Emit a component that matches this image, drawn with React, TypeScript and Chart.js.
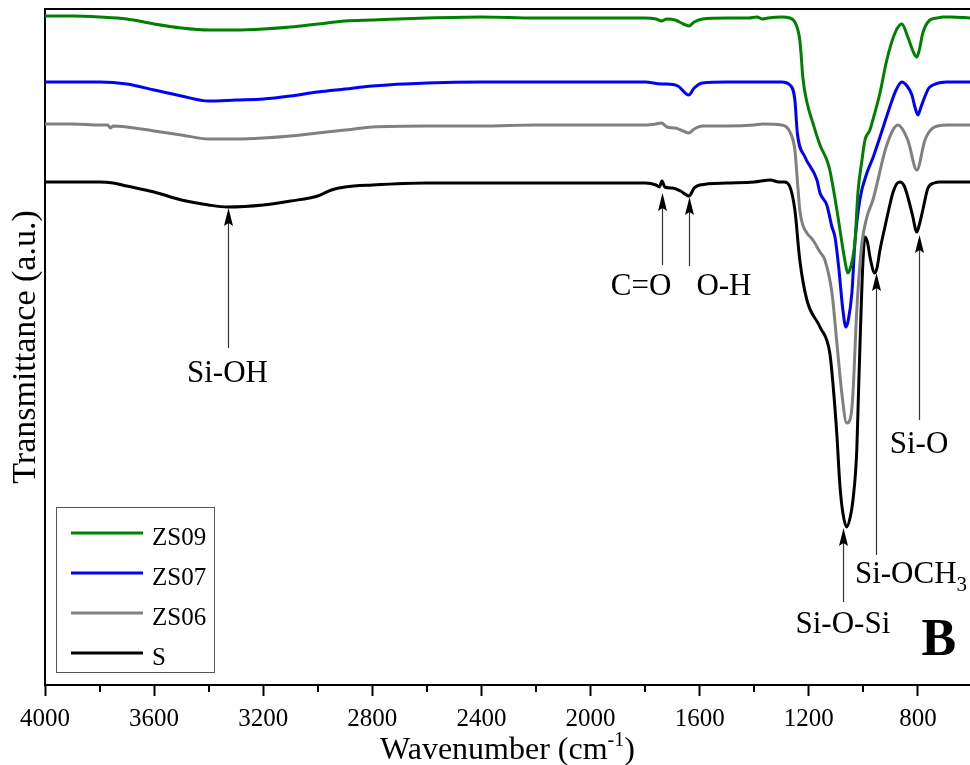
import React, { useEffect, useRef } from 'react';
import { Chart, registerables } from 'chart.js';

Chart.register(...registerables);

// ---------- data ----------
const wnZS09 = [4000, 3900, 3800, 3700, 3600, 3500, 3400, 3300, 3200, 3100, 3000, 2900, 2800, 2600, 2400, 2200, 2000, 1800, 1760, 1740, 1720, 1690, 1660, 1640, 1620, 1590, 1500, 1420, 1390, 1370, 1350, 1300, 1269, 1251, 1240, 1233, 1228, 1222, 1207, 1185, 1159, 1134, 1123, 1097, 1080, 1068, 1057, 1050, 1042, 1031, 1020, 1005, 994, 976, 960, 939, 914, 884, 859, 837, 815, 804, 795, 782, 756, 730, 708, 680, 609];
const tZS09 = [66.9, 66.9, 66.8, 66.6, 66.1, 65.7, 65.5, 65.5, 65.6, 65.8, 66.1, 66.4, 66.5, 66.7, 66.8, 66.7, 66.7, 66.7, 66.6, 66.4, 66.6, 66.5, 66.1, 65.9, 66.3, 66.6, 66.7, 66.7, 66.8, 66.6, 66.7, 66.8, 66.7, 66.3, 65.5, 64.5, 63.0, 60.8, 58.3, 56.2, 54.0, 52.5, 51.5, 47.5, 44.5, 42.5, 41.2, 41.5, 42.3, 44.2, 49.2, 52.5, 54.5, 55.5, 57.0, 59.2, 62.5, 65.2, 66.1, 64.8, 63.2, 62.8, 63.5, 65.2, 66.5, 66.7, 66.8, 66.8, 66.7];

const wnZS07 = [4000, 3800, 3700, 3600, 3500, 3400, 3300, 3200, 3100, 3000, 2900, 2800, 2600, 2400, 2000, 1800, 1740, 1720, 1680, 1640, 1620, 1590, 1500, 1300, 1269, 1251, 1242, 1214, 1170, 1159, 1134, 1115, 1104, 1090, 1075, 1064, 1055, 1042, 1031, 1013, 987, 965, 939, 903, 880, 859, 840, 822, 810, 800, 790, 775, 760, 745, 694, 609];
const tZS07 = [60.3, 60.3, 60.1, 59.5, 58.9, 58.4, 58.5, 58.6, 58.9, 59.3, 59.6, 59.9, 60.2, 60.3, 60.3, 60.3, 60.1, 60.1, 59.9, 59.0, 59.7, 60.2, 60.3, 60.3, 60.0, 58.5, 55.2, 52.8, 50.5, 49.2, 48.0, 45.8, 44.8, 41.7, 37.5, 35.8, 36.5, 39.2, 44.2, 48.5, 51.2, 52.7, 54.8, 57.8, 59.5, 60.3, 59.9, 59.0, 57.7, 57.0, 57.7, 58.8, 59.7, 60.0, 60.3, 60.3];

const wnZS06 = [4000, 3900, 3800, 3770, 3760, 3750, 3700, 3600, 3500, 3400, 3300, 3200, 3100, 3000, 2900, 2800, 2600, 2400, 2200, 1800, 1760, 1740, 1720, 1690, 1660, 1640, 1620, 1590, 1500, 1400, 1370, 1300, 1269, 1251, 1242, 1233, 1222, 1207, 1185, 1159, 1141, 1115, 1097, 1079, 1061, 1045, 1038, 1024, 1005, 987, 965, 914, 873, 837, 804, 774, 745, 694, 609];
const tZS06 = [56.1, 56.1, 56.0, 56.0, 55.7, 55.9, 55.8, 55.4, 55.0, 54.6, 54.6, 54.7, 54.9, 55.2, 55.5, 55.8, 55.9, 55.9, 56.0, 56.0, 56.1, 56.2, 55.8, 55.7, 55.4, 55.2, 55.6, 55.9, 55.9, 56.0, 56.1, 56.0, 55.3, 53.5, 50.5, 47.5, 46.0, 45.2, 44.5, 43.3, 42.5, 39.2, 34.2, 29.2, 26.2, 27.0, 29.2, 37.5, 44.2, 46.8, 48.5, 54.0, 56.0, 54.5, 51.5, 54.5, 55.7, 56.0, 56.0];

const wnS = [4000, 3900, 3800, 3750, 3700, 3600, 3500, 3400, 3330, 3200, 3100, 3000, 2950, 2900, 2800, 2600, 1800, 1760, 1748, 1738, 1728, 1700, 1670, 1639, 1620, 1600, 1500, 1400, 1340, 1310, 1290, 1269, 1251, 1233, 1207, 1159, 1123, 1111, 1097, 1086, 1075, 1061, 1048, 1038, 1024, 1018, 1010, 1002, 994, 985, 975, 958, 950, 939, 921, 903, 892, 878, 866, 850, 837, 820, 804, 795, 782, 763, 740, 719, 609];
const tS = [50.3, 50.3, 50.3, 50.2, 49.9, 49.3, 48.5, 48.0, 47.8, 48.0, 48.4, 48.9, 49.5, 49.8, 50.0, 50.2, 50.2, 50.0, 49.8, 50.4, 49.8, 49.7, 49.4, 48.9, 49.7, 50.0, 50.2, 50.3, 50.5, 50.3, 50.3, 49.8, 47.5, 42.5, 38.5, 35.8, 33.2, 30.0, 25.0, 20.0, 17.2, 15.8, 16.8, 18.5, 23.5, 29.0, 36.0, 42.0, 44.8, 44.3, 42.7, 41.2, 41.7, 43.5, 45.8, 48.0, 49.2, 50.1, 50.3, 49.9, 48.8, 47.0, 45.3, 46.0, 47.5, 49.7, 50.2, 50.3, 50.3];

const seriesNames = ['ZS09', 'ZS07', 'ZS06', 'S'];
const seriesColors = ['#008000', '#0000ff', '#808080', '#000000'];

const xMajorTicks = [4000, 3600, 3200, 2800, 2400, 2000, 1600, 1200, 800];
const xMinorTicks = [3800, 3400, 3000, 2600, 2200, 1800, 1400, 1000];
const xMin = 609;
const xMax = 4000;
const yMin = 0;
const yMax = 67.6;

// band assignments: arrow at wavenumber, from tail value up to tip value; label position
const bandLabels = ['Si-OH', 'C=O', 'O-H', 'Si-O-Si', 'Si-OCH', 'Si-O'];
const bandSub = ['', '', '', '', '3', ''];
const bandWn = [3329, 1738, 1639, 1075, 954, 796];
const bandTip = [47.7, 49.2, 48.8, 15.7, 41.2, 45.0];
const bandTail = [33.7, 42.0, 41.9, 8.3, 13.0, 26.5];
const bandTextWn = [3331, 1815, 1511, 1075, 1031, 796];
const bandTextT = [30.3, 39.0, 39.0, 5.2, 10.2, 23.2];
const bandAlign = ['center', 'center', 'center', 'center', 'left', 'center'];

const panelLetter = 'B';
const panelWn = 723;
const panelT = 3.0;

const FONT = "'Liberation Serif', 'Times New Roman', serif";

const decor = {
  id: 'decor',
  afterDraw(chart: any) {
    const { ctx, chartArea: ca } = chart;
    const x = chart.scales.x;
    const y = chart.scales.y;
    ctx.save();
    ctx.strokeStyle = '#000';
    ctx.fillStyle = '#000';
    // top frame line
    ctx.lineWidth = 2;
    ctx.beginPath();
    ctx.moveTo(ca.left - 1, ca.top);
    ctx.lineTo(ca.right, ca.top);
    ctx.stroke();
    // minor ticks
    xMinorTicks.forEach((v) => {
      const px = Math.round(x.getPixelForValue(v));
      ctx.beginPath();
      ctx.moveTo(px, ca.bottom);
      ctx.lineTo(px, ca.bottom + 7);
      ctx.stroke();
    });

    // x axis title with superscript
    const cx = (ca.left + ca.right) / 2;
    const baseY = 759;
    ctx.font = `32px ${FONT}`;
    const p1 = 'Wavenumber (cm';
    const p3 = ')';
    const w1 = ctx.measureText(p1).width;
    const w3 = ctx.measureText(p3).width;
    ctx.font = `20px ${FONT}`;
    const p2 = '-1';
    const w2 = ctx.measureText(p2).width;
    const total = w1 + w2 + w3;
    const sx = cx - total / 2;
    ctx.textBaseline = 'alphabetic';
    ctx.textAlign = 'left';
    ctx.font = `32px ${FONT}`;
    ctx.fillText(p1, sx, baseY);
    ctx.font = `20px ${FONT}`;
    ctx.fillText(p2, sx + w1, baseY - 13);
    ctx.font = `32px ${FONT}`;
    ctx.fillText(p3, sx + w1 + w2, baseY);

    // band arrows + labels
    bandLabels.forEach((lab, i) => {
      const ax = Math.round(x.getPixelForValue(bandWn[i])) + 0.5;
      const yTip = y.getPixelForValue(bandTip[i]);
      const yTail = y.getPixelForValue(bandTail[i]);
      ctx.strokeStyle = '#333';
      ctx.lineWidth = 1.2;
      ctx.beginPath();
      ctx.moveTo(ax, yTail);
      ctx.lineTo(ax, yTip + 14);
      ctx.stroke();
      ctx.fillStyle = '#000';
      ctx.beginPath();
      ctx.moveTo(ax, yTip);
      ctx.lineTo(ax - 4.5, yTip + 18);
      ctx.lineTo(ax, yTip + 15);
      ctx.lineTo(ax + 4.5, yTip + 18);
      ctx.closePath();
      ctx.fill();

      const tx = x.getPixelForValue(bandTextWn[i]);
      const ty = y.getPixelForValue(bandTextT[i]);
      ctx.font = `31px ${FONT}`;
      ctx.textBaseline = 'alphabetic';
      if (bandSub[i]) {
        ctx.textAlign = 'left';
        const mw = ctx.measureText(lab).width;
        ctx.fillText(lab, tx, ty);
        ctx.font = `21px ${FONT}`;
        ctx.fillText(bandSub[i], tx + mw, ty + 8);
      } else {
        ctx.textAlign = bandAlign[i] as CanvasTextAlign;
        ctx.fillText(lab, tx, ty);
      }
    });

    // panel letter
    ctx.font = `bold 52px ${FONT}`;
    ctx.textAlign = 'center';
    ctx.textBaseline = 'alphabetic';
    ctx.fillText(panelLetter, x.getPixelForValue(panelWn), y.getPixelForValue(panelT));

    // legend box
    const bx = ca.left + 11;
    const by = ca.bottom - 178;
    const bw = 158;
    const bh = 165;
    ctx.strokeStyle = '#555';
    ctx.lineWidth = 1;
    ctx.strokeRect(bx + 0.5, by + 0.5, bw, bh);
    chart.data.datasets.forEach((ds: any, i: number) => {
      const ry = by + 26 + i * 40;
      ctx.strokeStyle = ds.borderColor;
      ctx.lineWidth = 3;
      ctx.beginPath();
      ctx.moveTo(bx + 15, ry);
      ctx.lineTo(bx + 87, ry);
      ctx.stroke();
      ctx.fillStyle = '#000';
      ctx.font = `25px ${FONT}`;
      ctx.textAlign = 'left';
      ctx.textBaseline = 'alphabetic';
      ctx.fillText(ds.label, bx + 96, ry + 12);
    });
    ctx.restore();
  },
};

export default function App() {
  const ref = useRef<HTMLCanvasElement>(null);
  useEffect(() => {
    document.body.style.margin = '0';
    const canvas = ref.current;
    if (!canvas) return;
    const pts = (wn: number[], t: number[]) => wn.map((v, i) => ({ x: v, y: t[i] }));
    const series = [
      pts(wnZS09, tZS09),
      pts(wnZS07, tZS07),
      pts(wnZS06, tZS06),
      pts(wnS, tS),
    ];
    const chart = new Chart(canvas, {
      type: 'line',
      data: {
        datasets: series.map((d, i) => ({
          label: seriesNames[i],
          data: d,
          borderColor: seriesColors[i],
          backgroundColor: seriesColors[i],
          borderWidth: 3,
          pointRadius: 0,
          fill: false,
          cubicInterpolationMode: 'monotone' as const,
        })),
      },
      options: {
        responsive: false,
        animation: false,
        layout: { padding: { top: 9, left: 0, right: 0, bottom: 0 } },
        plugins: {
          legend: { display: false },
          tooltip: { enabled: false },
        },
        scales: {
          x: {
            type: 'linear',
            reverse: true,
            min: xMin,
            max: xMax,
            afterBuildTicks: (s: any) => {
              s.ticks = xMajorTicks.map((v) => ({ value: v }));
            },
            afterFit: (s: any) => {
              s.height = 80;
            },
            grid: {
              display: true,
              drawOnChartArea: false,
              drawTicks: true,
              tickLength: 11,
              tickWidth: 2,
              tickColor: '#000',
            },
            border: { display: true, color: '#000', width: 2 },
            ticks: {
              color: '#000',
              font: { family: FONT, size: 25 },
              padding: 8,
              maxRotation: 0,
              autoSkip: false,
              callback: (v: any) => String(v),
            },
          },
          y: {
            type: 'linear',
            min: yMin,
            max: yMax,
            afterFit: (s: any) => {
              s.width = 45;
            },
            ticks: { display: false },
            grid: { display: false, drawTicks: false },
            border: { display: true, color: '#000', width: 2 },
            title: {
              display: true,
              text: 'Transmittance (a.u.)',
              color: '#000',
              font: { family: FONT, size: 34 },
              padding: { top: 6, bottom: 0 },
            },
          },
        },
      },
      plugins: [decor],
    });
    return () => chart.destroy();
  }, []);
  return (
    <div style={{ position: 'absolute', left: 0, top: 0, width: 970, height: 765 }}>
      <canvas ref={ref} width={970} height={765} style={{ display: 'block', width: 970, height: 765 }} />
    </div>
  );
}
